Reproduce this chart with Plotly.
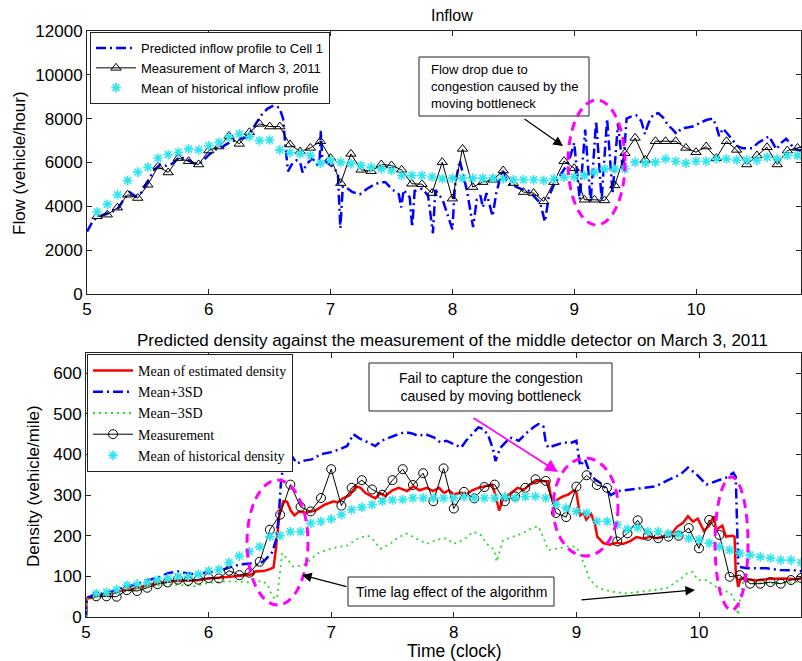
import plotly.graph_objects as go

W, H = 802, 661


def px(x):
    return x / W


def py(y):
    return 1 - y / H


# ---------------- Top panel: inflow ----------------
# 5-minute sample times (hours, clock)
flow_t = [5 + k / 12 for k in range(1, 72)]
flow_meas = [3545, 3620, 3940, 4530, 4380, 4985, 5820, 5545, 6200, 6060,
             5910, 6545, 6730, 7210, 6850, 7380, 7760, 7640, 7640, 6820,
             6500, 6665, 6970, 6200, 5060, 6393, 5665, 5605, 5910, 5865,
             5665, 5030, 5010, 4605, 6015, 4350, 6620, 4880, 5105, 5210,
             5635, 5060, 4650, 4605, 4225, 5105, 6060, 5740, 4300, 4300,
             4270, 4955, 6425, 7120, 6120, 6970, 6970, 6970, 6665, 6470,
             6730, 6200, 6970, 6575, 5910, 6320, 6695, 5910, 6545, 6665,
             6800]
flow_hist = [3740, 4090, 4530, 5180, 5560, 5785, 6195, 6365, 6470, 6620,
             6575, 6770, 6920, 7150, 7300, 7180, 7000, 7030, 6575, 6450,
             6400, 6320, 5970, 6090, 6015, 5940, 5865, 5790, 5710, 5635,
             5410, 5410, 5410, 5335, 5260, 5285, 5285, 5285, 5285, 5285,
             5260, 5210, 5210, 5210, 5185, 5260, 5330, 5350, 5410, 5560,
             5710, 5700, 5700, 6015, 5970, 6015, 6165, 6060, 5970, 6060,
             6060, 6165, 6165, 6110, 6110, 6110, 6240, 6165, 6320, 6320,
             6350]
pred_t = [5.00, 5.05, 5.10, 5.17, 5.25, 5.30, 5.35, 5.40, 5.45, 5.50,
          5.55, 5.60, 5.65, 5.70, 5.76, 5.82, 5.88, 5.93, 6.00, 6.06,
          6.12, 6.18, 6.24, 6.30, 6.35, 6.39, 6.43, 6.48, 6.53, 6.58,
          6.61, 6.63, 6.65, 6.68, 6.72, 6.75, 6.77, 6.80, 6.85, 6.89,
          6.91, 6.92, 6.93, 6.97, 7.02, 7.06, 7.08, 7.10, 7.13, 7.18,
          7.24, 7.30, 7.36, 7.41, 7.45, 7.50, 7.56, 7.58, 7.60, 7.65,
          7.67, 7.69, 7.75, 7.80, 7.84, 7.86, 7.92, 8.00, 8.02, 8.06,
          8.09, 8.12, 8.17, 8.20, 8.23, 8.25, 8.28, 8.33, 8.36, 8.41,
          8.46, 8.52, 8.58, 8.63, 8.68, 8.72, 8.76, 8.79, 8.83, 8.88,
          8.93, 8.97, 9.00, 9.045, 9.09, 9.135, 9.18, 9.225, 9.27, 9.315,
          9.36, 9.40, 9.43, 9.47, 9.51, 9.55, 9.58, 9.61, 9.65, 9.69,
          9.73, 9.77, 9.81, 9.84, 9.88, 9.93, 9.98, 10.03, 10.09, 10.14,
          10.17, 10.19, 10.22, 10.26, 10.30, 10.34, 10.38, 10.46, 10.51, 10.56,
          10.60, 10.63, 10.66, 10.70, 10.74, 10.77, 10.80, 10.85, 10.90]
pred_v = [2850, 3350, 3550, 3700, 3850, 4300, 4650, 4450, 4650, 5150,
          5650, 5900, 5850, 5950, 6250, 6150, 5950, 5950, 6350, 6600,
          6750, 6950, 7050, 7150, 7450, 7800, 8150, 8450, 8600, 8500,
          8000, 6700, 5600, 5900, 6100, 6000, 5550, 5900, 6200, 5900,
          6100, 7450, 6300, 6000, 5800, 5500, 3000, 4900, 4850, 4650,
          4550, 4800, 5000, 5100, 5100, 4800, 4550, 3950, 4750, 4400,
          3050, 4700, 4800, 4500, 2770, 4750, 4300, 2950, 4900, 6100,
          5400, 4700, 3050, 4300, 4500, 3950, 4600, 3550, 4600, 5650,
          5050, 4900, 4750, 4700, 4400, 4150, 3300, 4400, 4950, 5400,
          5800, 6300, 6900, 4300, 7500, 4200, 7900, 4300, 8000, 4600,
          7800, 5600, 8000, 8100, 8150, 7900, 7300, 7800, 8200, 8250,
          8050, 7700, 7500, 7300, 7550, 7600, 7650, 7800, 7950, 8000,
          7600, 7200, 7550, 7300, 7000, 6750, 6650, 6650, 6900, 7050,
          7200, 6900, 6600, 6900, 7080, 6900, 6650, 6550, 6600]

# ---------------- Bottom panel: density ----------------
dens_t = [5 + k / 12 for k in range(1, 71)]
dens_meas = [51, 51, 50, 66, 64, 72, 81, 85, 92, 89,
             92, 96, 95, 114, 103, 109, 136, 215, 252, 326,
             271, 260, 293, 364, 274, 318, 337, 314, 301, 337,
             364, 325, 354, 285, 366, 267, 308, 292, 320, 326,
             285, 297, 318, 339, 335, 256, 246, 321, 349, 325,
             318, 186, 206, 238, 200, 194, 198, 200, 219, 169,
             239, 202, 99, 103, 82, 82, 86, 82, 91, 96]
dens_hist = [58, 61, 67, 78, 81, 85, 91, 95, 99, 100,
             105, 114, 117, 134, 150, 161, 173, 198, 200, 210,
             210, 231, 235, 241, 252, 264, 270, 277, 285, 288,
             289, 293, 293, 293, 293, 293, 296, 293, 293, 293,
             296, 293, 296, 297, 293, 277, 268, 260, 256, 235,
             235, 227, 216, 220, 210, 210, 205, 204, 194, 190,
             182, 173, 165, 157, 153, 148, 145, 140, 140, 134]
est_t = [5.00, 5.005, 5.05, 5.10, 5.20, 5.30, 5.40, 5.50, 5.60, 5.70,
         5.80, 5.90, 6.00, 6.10, 6.20, 6.30, 6.36, 6.38, 6.45, 6.50,
         6.53, 6.55, 6.58, 6.61, 6.64, 6.67, 6.70, 6.74, 6.79, 6.87,
         6.95, 7.02, 7.05, 7.10, 7.15, 7.20, 7.24, 7.28, 7.36, 7.40,
         7.44, 7.50, 7.55, 7.62, 7.67, 7.72, 7.78, 7.83, 7.88, 7.92,
         7.96, 8.00, 8.06, 8.11, 8.15, 8.20, 8.26, 8.31, 8.34, 8.37,
         8.40, 8.46, 8.52, 8.57, 8.62, 8.67, 8.72, 8.77, 8.79, 8.81,
         8.85, 8.89, 8.93, 8.98, 9.00, 9.03, 9.06, 9.08, 9.12, 9.15,
         9.17, 9.22, 9.27, 9.33, 9.38, 9.44, 9.49, 9.55, 9.60, 9.65,
         9.71, 9.76, 9.82, 9.87, 9.91, 9.95, 9.99, 10.04, 10.08, 10.12,
         10.14, 10.19, 10.22, 10.27, 10.29, 10.30, 10.32, 10.34, 10.39, 10.47,
         10.58, 10.69, 10.80, 10.86]
est_mean = [0, 45, 48, 52, 57, 66, 70, 78, 84, 88,
            90, 90, 95, 97, 100, 103, 105, 112, 113, 118,
            122, 170, 260, 285, 284, 262, 250, 260, 257, 262,
            277, 285, 282, 293, 300, 322, 318, 305, 292, 305,
            298, 312, 318, 310, 322, 312, 318, 310, 318, 305,
            312, 302, 306, 303, 312, 318, 322, 326, 300, 262,
            290, 303, 318, 313, 326, 334, 334, 334, 300, 282,
            290, 297, 301, 312, 306, 250, 256, 240, 254, 230,
            198, 182, 178, 183, 180, 187, 197, 193, 198, 194,
            198, 198, 222, 232, 248, 235, 242, 212, 224, 248,
            215, 225, 198, 200, 198, 110, 74, 95, 93, 90,
            94, 95, 93, 96]
up_t = [5.00, 5.005, 5.10, 5.20, 5.30, 5.40, 5.50, 5.60, 5.67, 5.75,
        5.82, 5.90, 6.00, 6.10, 6.20, 6.27, 6.34, 6.40, 6.46, 6.52,
        6.55, 6.57, 6.59, 6.62, 6.66, 6.72, 6.78, 6.84, 6.92, 7.00,
        7.06, 7.13, 7.18, 7.23, 7.30, 7.36, 7.41, 7.47, 7.53, 7.60,
        7.66, 7.71, 7.77, 7.84, 7.89, 7.94, 8.00, 8.06, 8.10, 8.16,
        8.20, 8.24, 8.28, 8.32, 8.34, 8.38, 8.46, 8.53, 8.60, 8.65,
        8.69, 8.73, 8.75, 8.77, 8.84, 8.90, 8.95, 9.00, 9.03, 9.07,
        9.11, 9.15, 9.22, 9.28, 9.34, 9.44, 9.55, 9.65, 9.76, 9.85,
        9.91, 9.98, 10.06, 10.14, 10.22, 10.28, 10.30, 10.32, 10.39, 10.55,
        10.66, 10.77, 10.86]
up_v = [0, 48, 56, 62, 72, 80, 90, 98, 108, 112,
        108, 105, 110, 115, 125, 130, 132, 128, 140, 160,
        190, 240, 330, 400, 405, 378, 385, 388, 401, 406,
        412, 421, 450, 440, 430, 421, 434, 442, 448, 455,
        452, 446, 450, 442, 430, 434, 425, 417, 434, 455,
        467, 463, 448, 413, 384, 417, 442, 434, 455, 467,
        475, 470, 430, 417, 425, 430, 428, 434, 372, 388,
        355, 339, 325, 300, 310, 314, 318, 322, 339, 351,
        368, 351, 326, 334, 343, 355, 345, 124, 120, 120,
        116, 115, 112]
lo_t = [5.00, 5.005, 5.10, 5.20, 5.30, 5.40, 5.50, 5.60, 5.70, 5.80,
        5.89, 6.00, 6.10, 6.20, 6.30, 6.38, 6.43, 6.48, 6.51, 6.54,
        6.56, 6.58, 6.60, 6.65, 6.69, 6.77, 6.83, 6.88, 6.96, 7.05,
        7.13, 7.23, 7.30, 7.35, 7.40, 7.48, 7.53, 7.61, 7.70, 7.78,
        7.86, 7.94, 8.00, 8.08, 8.16, 8.22, 8.27, 8.33, 8.35, 8.40,
        8.47, 8.56, 8.64, 8.69, 8.73, 8.77, 8.85, 8.95, 9.00, 9.04,
        9.07, 9.11, 9.17, 9.22, 9.30, 9.41, 9.52, 9.63, 9.73, 9.84,
        9.90, 9.95, 9.99, 10.06, 10.14, 10.20, 10.26, 10.29, 10.32, 10.34,
        10.36, 10.41, 10.58, 10.86]
lo_v = [0, 44, 50, 55, 62, 68, 74, 78, 80, 78,
        76, 84, 87, 88, 85, 84, 90, 80, 58, 44,
        50, 110, 157, 140, 124, 127, 140, 155, 165, 172,
        176, 195, 200, 188, 168, 180, 192, 206, 192, 180,
        190, 194, 180, 190, 210, 202, 180, 165, 136, 188,
        196, 206, 219, 223, 196, 165, 169, 175, 172, 148,
        124, 91, 74, 68, 62, 58, 62, 66, 70, 91,
        107, 111, 91, 91, 74, 66, 58, 41, 5, 60,
        85, 87, 82, 87]

SANS = "Arial, 'Liberation Sans', sans-serif"
SERIF = "'Times New Roman', 'Liberation Serif', serif"
BLUE = "#0000FF"
CYAN = "#2EE6EE"
MAG = "#FF00FF"

fig = go.Figure()

# top traces
fig.add_trace(go.Scatter(x=pred_t, y=pred_v, mode="lines", name="Predicted inflow profile to Cell 1",
                         line=dict(color=BLUE, width=2.5, dash="10px,4px,2px,4px"),
                         xaxis="x", yaxis="y", legend="legend"))
fig.add_trace(go.Scatter(x=flow_t, y=flow_meas, mode="lines+markers", name="Measurement of March 3, 2011",
                         line=dict(color="black", width=1),
                         marker=dict(symbol="triangle-up-open", size=9, color="black", line=dict(width=1)),
                         xaxis="x", yaxis="y", legend="legend"))
fig.add_trace(go.Scatter(x=flow_t, y=flow_hist, mode="markers", name="Mean of historical inflow profile",
                         marker=dict(symbol="asterisk-open", size=8, color=CYAN, line=dict(color=CYAN, width=1.6)),
                         xaxis="x", yaxis="y", legend="legend"))

# bottom traces
fig.add_trace(go.Scatter(x=est_t, y=est_mean, mode="lines", name="Mean of estimated density",
                         line=dict(color="#FF0000", width=2.5),
                         xaxis="x2", yaxis="y2", legend="legend2"))
fig.add_trace(go.Scatter(x=up_t, y=up_v, mode="lines", name="Mean+3SD",
                         line=dict(color=BLUE, width=2.5, dash="10px,4px,2px,4px"),
                         xaxis="x2", yaxis="y2", legend="legend2"))
fig.add_trace(go.Scatter(x=lo_t, y=lo_v, mode="lines", name="Mean\u22123SD",
                         line=dict(color="#22E022", width=1.8, dash="2px,4px"),
                         xaxis="x2", yaxis="y2", legend="legend2"))
fig.add_trace(go.Scatter(x=dens_t, y=dens_meas, mode="lines+markers", name="Measurement",
                         line=dict(color="black", width=1),
                         marker=dict(symbol="circle-open", size=9, color="black", line=dict(width=1)),
                         xaxis="x2", yaxis="y2", legend="legend2"))
fig.add_trace(go.Scatter(x=dens_t, y=dens_hist, mode="markers", name="Mean of historical density",
                         marker=dict(symbol="asterisk-open", size=8, color=CYAN, line=dict(color=CYAN, width=1.6)),
                         xaxis="x2", yaxis="y2", legend="legend2"))

axis_common = dict(showgrid=False, zeroline=False, showline=True, linecolor="#222", linewidth=1,
                   mirror="allticks", ticks="inside", ticklen=5, tickcolor="#222", automargin=False,
                   tickfont=dict(family=SANS, size=17, color="black"))

fig.update_layout(
    template="none",
    width=W, height=H, margin=dict(l=0, r=0, t=0, b=0, pad=0, autoexpand=False),
    paper_bgcolor="white", plot_bgcolor="white", showlegend=True,
    xaxis=dict(domain=[px(87), px(801)], range=[5, 10.862], tickvals=[5, 6, 7, 8, 9, 10],
               anchor="y", **axis_common),
    yaxis=dict(domain=[py(294), py(31)], range=[0, 12000], tickvals=list(range(0, 12001, 2000)),
               tickformat="d", anchor="x", **axis_common),
    xaxis2=dict(domain=[px(86), px(801)], range=[5, 10.832], tickvals=[5, 6, 7, 8, 9, 10],
                anchor="y2", **axis_common),
    yaxis2=dict(domain=[py(617), py(353)], range=[0, 650], tickvals=list(range(0, 601, 100)),
                tickformat="d", anchor="x2", **axis_common),
    legend=dict(x=px(90), y=py(32), xanchor="left", yanchor="top", bgcolor="white",
                bordercolor="#222", borderwidth=1, font=dict(family=SANS, size=13, color="black"),
                tracegroupgap=0, itemwidth=40),
    legend2=dict(x=px(87), y=py(354), xanchor="left", yanchor="top", bgcolor="white",
                 bordercolor="#222", borderwidth=1, font=dict(family=SERIF, size=14, color="black"),
                 tracegroupgap=0, itemwidth=40),
)

annotations = [
    dict(text="Inflow", x=px(452), y=py(15), font=dict(family=SANS, size=16)),
    dict(text="Predicted density against the measurement of the middle detector on March 3, 2011",
         x=px(452), y=py(340), font=dict(family=SANS, size=17)),
    dict(text="Flow (vehicle/hour)", x=px(20), y=py(163), textangle=-90, font=dict(family=SANS, size=17)),
    dict(text="Density (vehicle/mile)", x=px(33), y=py(486), textangle=-90, font=dict(family=SANS, size=17)),
    dict(text="Time (clock)", x=px(454), y=py(651), font=dict(family=SANS, size=17.5)),
    dict(text="Flow drop due to<br>congestion caused by the<br>moving bottleneck", x=px(429), y=py(86.5),
         xanchor="left", align="left", font=dict(family=SANS, size=13)),
    dict(text="Fail to capture the congestion<br>caused by moving bottleneck", x=px(490.5), y=py(387),
         align="center", font=dict(family=SANS, size=14)),
    dict(text="Time lag effect of the algorithm", x=px(451), y=py(591.5), font=dict(family=SANS, size=14)),
]
for a in annotations:
    a.setdefault("xref", "paper")
    a.setdefault("yref", "paper")
    a.setdefault("showarrow", False)
    a.setdefault("xanchor", "center")
    a.setdefault("yanchor", "middle")
    a["font"].setdefault("color", "black")
    fig.add_annotation(**a)

# arrows: (tail px, head px, colour, width)
arrows = [((523, 118), (563, 146), "black", 1.2),
          ((472, 417), (558, 472), MAG, 1.6),
          ((348, 587), (302, 575), "black", 1.2),
          ((580, 600), (695, 590), "black", 1.2)]
for (tx, ty), (hx, hy), col, w in arrows:
    fig.add_annotation(x=px(hx), y=py(hy), xref="paper", yref="paper", text="", showarrow=True,
                       ax=tx - hx, ay=ty - hy, arrowhead=2, arrowsize=1.6, arrowwidth=w,
                       arrowcolor=col, standoff=0, startstandoff=0)

shapes = []
for x0, y0, x1, y1 in [(419, 57, 589, 116), (369, 363, 612, 411), (348, 577, 554, 606)]:
    shapes.append(dict(type="rect", xref="paper", yref="paper", x0=px(x0), x1=px(x1), y0=py(y1), y1=py(y0),
                       line=dict(color="#222", width=1), fillcolor="white", layer="above"))
for x0, y0, x1, y1 in [(568, 100, 625, 225), (247, 480, 308, 605), (553, 458, 618, 556), (715, 477, 748, 610)]:
    shapes.append(dict(type="circle", xref="paper", yref="paper", x0=px(x0), x1=px(x1), y0=py(y1), y1=py(y0),
                       line=dict(color=MAG, width=3, dash="9px,6px"), layer="above"))
fig.update_layout(shapes=shapes)

fig.write_html("out.html")
